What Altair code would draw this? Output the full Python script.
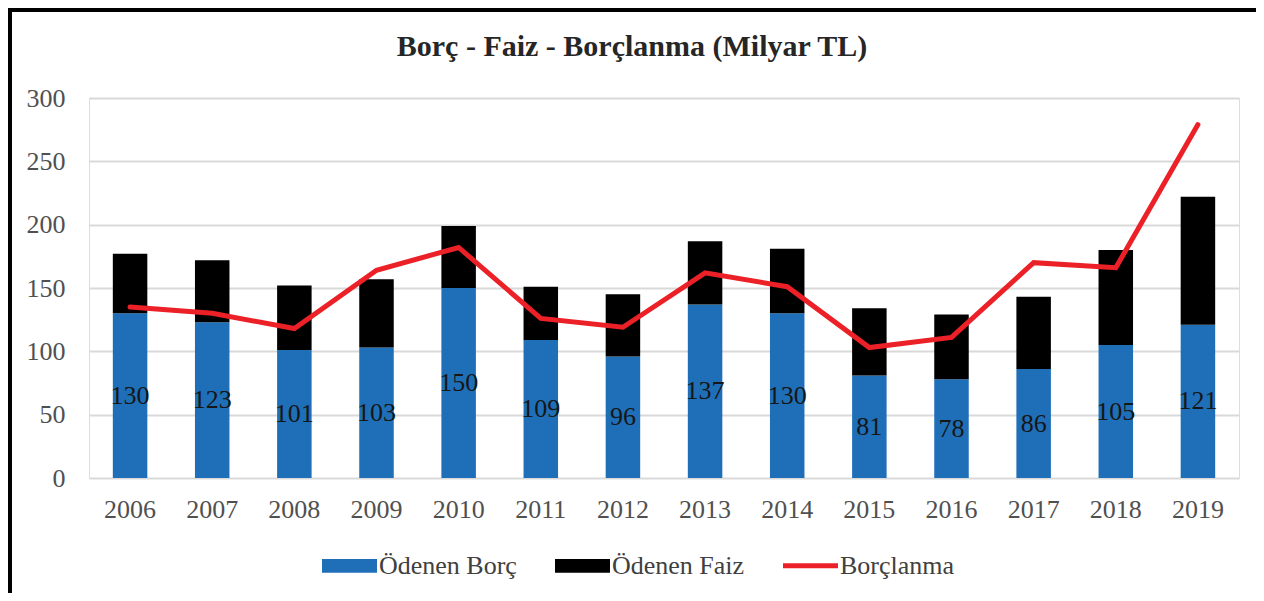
import altair as alt
import pandas as pd

# ---- data ----
years = ["2006", "2007", "2008", "2009", "2010", "2011", "2012",
         "2013", "2014", "2015", "2016", "2017", "2018", "2019"]
odenen_borc = [130, 123, 101, 103, 150, 109, 96, 137, 130, 81, 78, 86, 105, 121]
odenen_faiz = [47, 49, 51, 54, 49, 42, 49, 50, 51, 53, 51, 57, 75, 101]
borclanma = [135, 130, 118, 164, 182, 126, 119, 162, 151, 103, 111, 170, 166, 279]
series = ["Ödenen Borç", "Ödenen Faiz", "Borçlanma"]
y_ticks = [0, 50, 100, 150, 200, 250, 300]

colors = ["#1f6fb8", "#000000", "#ec2127"]
FONT = "Liberation Serif"
W, H = 1150, 380

rows = []
for y, b, f in zip(years, odenen_borc, odenen_faiz):
    rows.append({"Yıl": y, "Seri": series[0], "Değer": b, "Sıra": 0})
    rows.append({"Yıl": y, "Seri": series[1], "Değer": f, "Sıra": 1})
bars_df = pd.DataFrame(rows)
df = pd.DataFrame({"Yıl": years, "Borç": odenen_borc, "Borçlanma": borclanma})
legend_df = pd.DataFrame({"Seri": series})

x_enc = alt.X(
    "Yıl:N",
    title=None,
    sort=years,
    scale=alt.Scale(paddingInner=0.58, paddingOuter=0.29),
    axis=alt.Axis(labelAngle=0, labelFont=FONT, labelFontSize=26, labelColor="#505050",
                  labelPadding=18, ticks=False, domain=False, grid=False),
)
y_scale = alt.Scale(domain=[0, 300], nice=False)

bars = alt.Chart(bars_df).mark_bar().encode(
    x=x_enc,
    y=alt.Y("Değer:Q", stack="zero", scale=y_scale, title=None,
            axis=alt.Axis(values=y_ticks, labelFont=FONT, labelFontSize=26,
                          labelColor="#505050", labelPadding=24, ticks=False,
                          domain=False, grid=True, gridColor="#d9d9d9", gridWidth=2)),
    fill=alt.Fill("Seri:N", scale=alt.Scale(domain=series[:2], range=colors[:2]), legend=None),
    order=alt.Order("Sıra:Q", sort="ascending"),
)

labels = alt.Chart(df).transform_calculate(
    orta="datum['Borç'] / 2"
).mark_text(font=FONT, fontSize=26, color="#161616", baseline="middle").encode(
    x=x_enc,
    y=alt.Y("orta:Q", scale=y_scale, title=None),
    text=alt.Text("Borç:Q"),
)

line = alt.Chart(df).mark_line(color=colors[2], strokeWidth=5, strokeCap="round").encode(
    x=x_enc,
    y=alt.Y("Borçlanma:Q", scale=y_scale, title=None),
)

rect_path = "M-1,-0.25L1,-0.25L1,0.25L-1,0.25Z"
line_path = "M-1,-0.09L1,-0.09L1,0.09L-1,0.09Z"
leg = dict(orient="none", legendX=233, legendY=440, direction="horizontal", title=None,
           symbolSize=3025, symbolOpacity=1, symbolStrokeWidth=0,
           labelFont=FONT, labelFontSize=26, labelColor="#404040", labelOffset=2,
           columnPadding=38)
legend_layer = alt.Chart(legend_df).mark_point(opacity=0, filled=True).encode(
    color=alt.Color("Seri:N", scale=alt.Scale(domain=series, range=colors),
                    legend=alt.Legend(**leg)),
    shape=alt.Shape("Seri:N", scale=alt.Scale(domain=series, range=[rect_path, rect_path, line_path]),
                    legend=alt.Legend(**leg)),
)

frame_top = alt.Chart(alt.Data(values=[{}])).mark_rule(color="black", strokeWidth=4).encode(
    x=alt.value(-81), x2=alt.value(W + 17), y=alt.value(-88)
)
frame_left = alt.Chart(alt.Data(values=[{}])).mark_rule(color="black", strokeWidth=4).encode(
    x=alt.value(-79), y=alt.value(-90), y2=alt.value(H + 115)
)

chart = alt.layer(bars, labels, line, legend_layer, frame_top, frame_left).properties(
    width=W,
    height=H,
    autosize=alt.AutoSizeParams(type="none"),
    padding={"left": 81, "top": 90, "right": 17, "bottom": 115},
    title=alt.TitleParams("Borç - Faiz - Borçlanma (Milyar TL)", font=FONT, fontSize=30,
                          fontWeight="bold", color="#262626", anchor="middle",
                          frame="bounds", offset=-56),
).configure_view(stroke=None).configure(background="white")

chart.save("out.html", embed_options={"renderer": "svg", "actions": False})
